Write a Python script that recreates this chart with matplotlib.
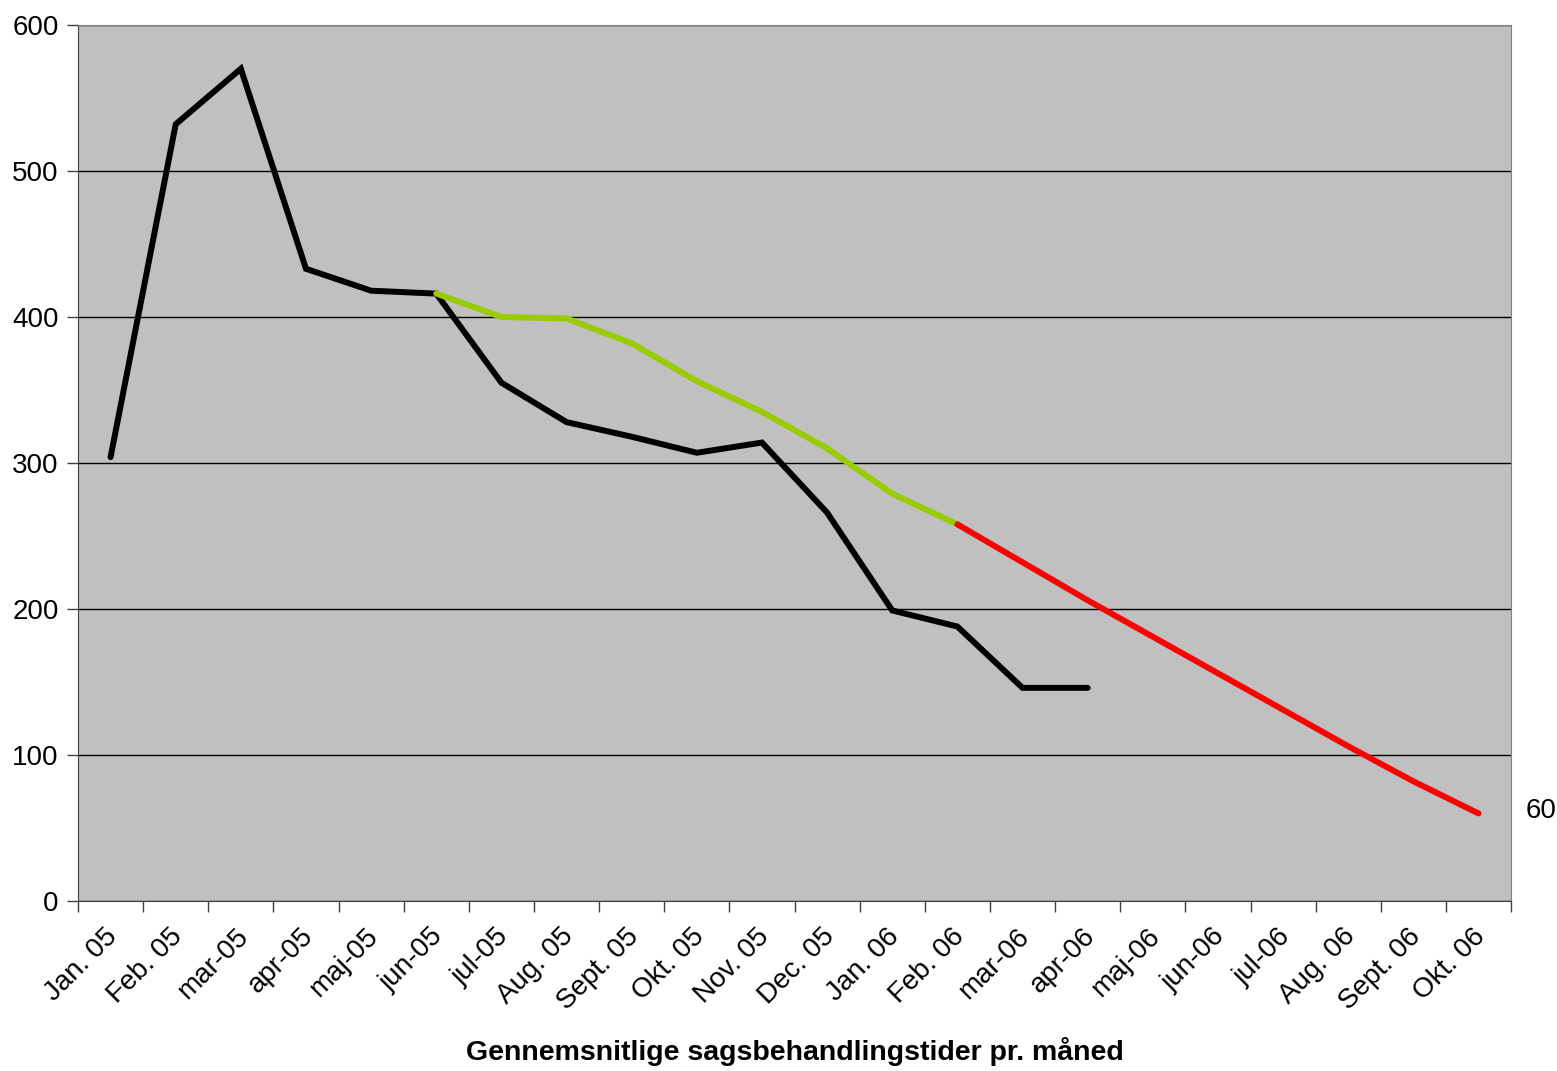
import numpy as np
import matplotlib.pyplot as plt
import matplotlib.transforms as mtransforms

plt.rcParams['font.family'] = ['Liberation Sans', 'DejaVu Sans']

months = ['Jan. 05', 'Feb. 05', 'mar-05', 'apr-05', 'maj-05', 'jun-05', 'jul-05',
          'Aug. 05', 'Sept. 05', 'Okt. 05', 'Nov. 05', 'Dec. 05', 'Jan. 06',
          'Feb. 06', 'mar-06', 'apr-06', 'maj-06', 'jun-06', 'jul-06',
          'Aug. 06', 'Sept. 06', 'Okt. 06']

# faktiske sagsbehandlingstider (Jan. 05 - apr-06)
actual = [304, 532, 570, 433, 418, 416, 355, 328, 318, 307, 314, 266, 199, 188, 146, 146]
# maal-kurve (jun-05 - Feb. 06)
target = [416, 400, 399, 382, 356, 335, 310, 279, 258]
target_start = 5
# fremskrivning (Feb. 06 - Okt. 06)
forecast = [258, 232, 206, 181, 156, 131, 106, 82, 60]
forecast_start = 13

fig = plt.figure(figsize=(15.57, 10.71), dpi=100)
ax = fig.add_axes([0.0501, 0.1587, 0.9204, 0.818])
ax.set_facecolor('#C0C0C0')

x = np.arange(len(months))
ax.plot(x[:len(actual)], actual, color='black', lw=4.3, solid_joinstyle='miter',
        solid_capstyle='round', zorder=3)
ax.plot(x[target_start:target_start + len(target)], target, color='#99CC00', lw=4.3,
        solid_capstyle='round', zorder=4)
ax.plot(x[forecast_start:forecast_start + len(forecast)], forecast, color='#FF0000', lw=4.3,
        solid_capstyle='round', zorder=5)

ax.text(len(months) - 1 + 0.72, forecast[-1] + 2, str(forecast[-1]), fontsize=20,
        ha='left', va='center')

ax.set_xlim(-0.5, len(months) - 0.5)
ax.set_ylim(0, 600)
ax.set_yticks(range(0, 601, 100))
ax.yaxis.grid(True, color='black', lw=1)
ax.set_axisbelow(True)

ax.set_xticks(np.arange(-0.5, len(months), 1))
ax.set_xticklabels([])
ax.set_xticks(x, minor=True)
ax.set_xticklabels(months, minor=True, rotation=45, ha='right', rotation_mode='anchor',
                   fontsize=20)
ax.tick_params(axis='x', which='major', length=8, width=1, color='#404040')
ax.tick_params(axis='x', which='minor', length=0, pad=16)
ax.tick_params(axis='y', length=8, width=1, color='#404040', labelsize=20, pad=6)

# rotated month labels sit slightly left of the category centre
shift = mtransforms.ScaledTranslation(-6 / 100, 0, fig.dpi_scale_trans)
for lbl in ax.get_xticklabels(minor=True):
    lbl.set_transform(lbl.get_transform() + shift)

for s in ['top', 'right']:
    ax.spines[s].set_color('#808080')
for s in ['left', 'bottom']:
    ax.spines[s].set_color('#404040')

ax.set_xlabel('Gennemsnitlige sagsbehandlingstider pr. måned', fontsize=20.5,
              fontweight='bold', labelpad=16)

fig.savefig('out.png', dpi=100)
